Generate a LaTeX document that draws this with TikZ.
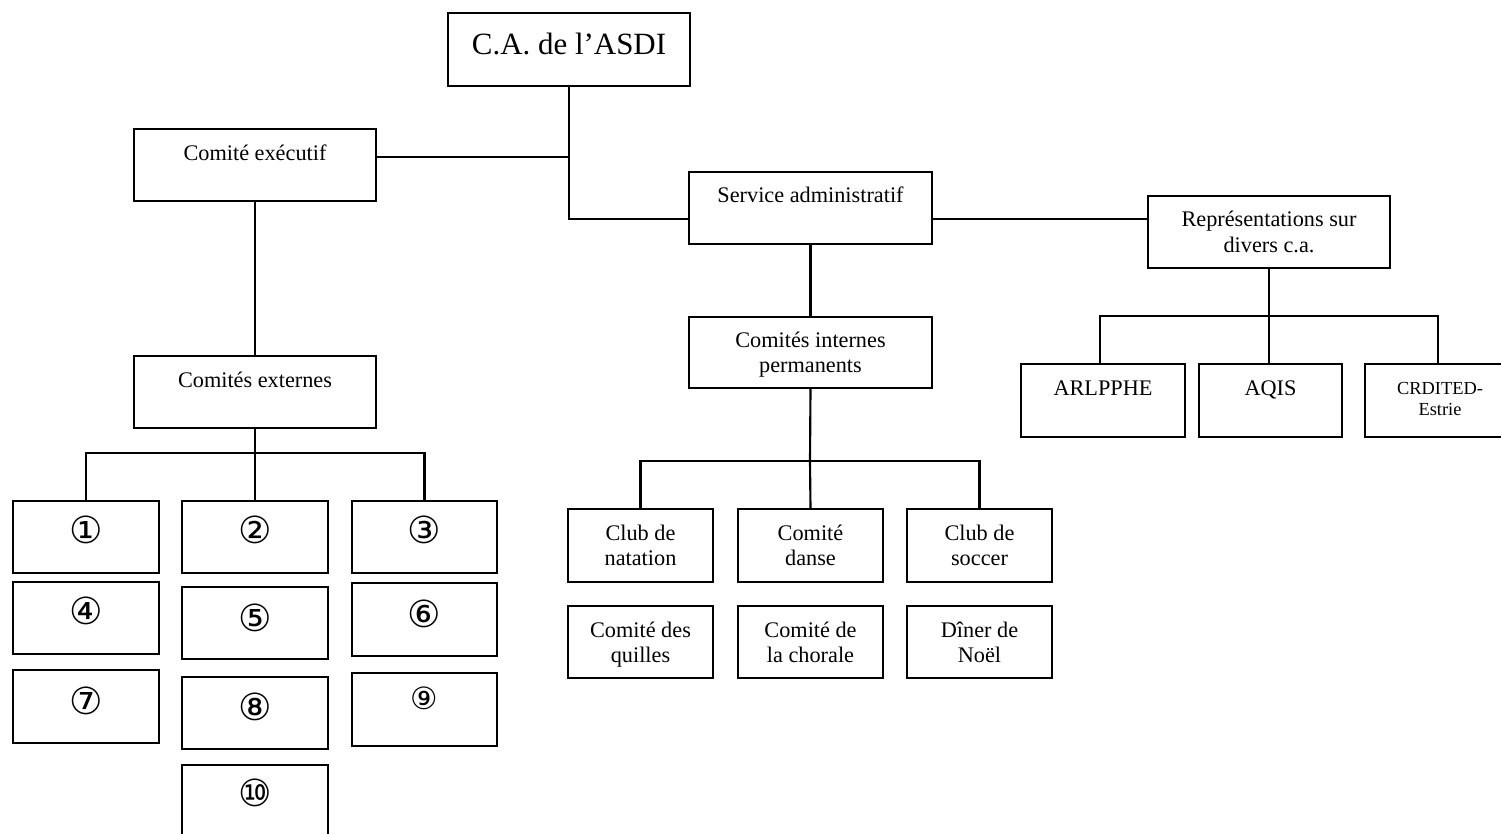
\documentclass[tikz,border=0pt]{standalone}
\usepackage{fontspec}
\setmainfont{Liberation Serif}
\newfontfamily\circfont{DejaVu Sans}
\usetikzlibrary{calc}
\begin{document}
\begin{tikzpicture}[x=0.75pt,y=-0.75pt,line width=1.6pt,
  bx/.style 2 args={draw,line width=1.6pt,minimum width=#1*0.75pt,minimum height=#2*0.75pt,inner sep=0pt,outer sep=0pt,anchor=north west},
  txt/.style={anchor=base,inner sep=0pt,font=\fontsize{16.7}{19.3}\selectfont},
  num/.style={anchor=center,inner sep=0pt,font=\circfont\fontsize{28}{32}\selectfont}]
\useasboundingbox (0,0) rectangle (1501,834);
% boxes
\node[bx={242}{73}] (ca) at (448,13) {};
\node[bx={242}{72}] (ce) at (134,129) {};
\node[bx={242}{72}] (cx) at (134,356) {};
\node[bx={243}{72}] (sa) at (689,172) {};
\node[bx={243}{71}] (ci) at (689,317) {};
\node[bx={242}{72}] (rep) at (1148,196) {};
\node[bx={164}{73}] (arl) at (1021,364) {};
\node[bx={143}{73}] (aqis) at (1199,364) {};
\node[bx={150}{73}] (crd) at (1365,364) {};
\node[bx={145}{73}] (nat) at (568,509) {};
\node[bx={145}{73}] (dan) at (738,509) {};
\node[bx={145}{73}] (soc) at (907,509) {};
\node[bx={145}{72}] (qui) at (568,606) {};
\node[bx={145}{72}] (cho) at (738,606) {};
\node[bx={145}{72}] (noe) at (907,606) {};
\node[bx={146}{72}] (n1) at (13,501) {};
\node[bx={146}{72}] (n4) at (13,582) {};
\node[bx={146}{73}] (n7) at (13,670) {};
\node[bx={146}{72}] (n2) at (182,501) {};
\node[bx={146}{72}] (n5) at (182,587) {};
\node[bx={146}{72}] (n8) at (182,677) {};
\node[bx={146}{70}] (n10) at (182,765) {};
\node[bx={145}{72}] (n3) at (352,501) {};
\node[bx={145}{73}] (n6) at (352,583) {};
\node[bx={145}{73}] (n9) at (352,673) {};
% texts
\node[txt,font=\fontsize{23.2}{28}\selectfont] (ca-t) at ($(ca.north)+(0,42)$) {C.A. de l’ASDI};
\node[txt] (ce-t) at ($(ce.north)+(0,32)$) {Comité exécutif};
\node[txt] (cx-t) at ($(cx.north)+(0,31)$) {Comités externes};
\node[txt] (sa-t) at ($(sa.north)+(0,31)$) {Service administratif};
\node[txt] (ci-t) at ($(ci.north)+(0,30)$) {\begin{tabular}[t]{@{}c@{}}Comités internes\\permanents\end{tabular}};
\node[txt] (rep-t) at ($(rep.north)+(0,31)$) {\begin{tabular}[t]{@{}c@{}}Représentations sur\\divers c.a.\end{tabular}};
\node[txt] (arl-t) at ($(arl.north)+(0,31)$) {ARLPPHE};
\node[txt] (aqis-t) at ($(aqis.north)+(0,31)$) {AQIS};
\node[txt,font=\fontsize{13.8}{15.8}\selectfont] (crd-t) at (1440,394) {\begin{tabular}[t]{@{}c@{}}CRDITED-\\Estrie\end{tabular}};
\node[txt] (nat-t) at ($(nat.north)+(0,31)$) {\begin{tabular}[t]{@{}c@{}}Club de\\natation\end{tabular}};
\node[txt] (dan-t) at ($(dan.north)+(0,31)$) {\begin{tabular}[t]{@{}c@{}}Comité\\danse\end{tabular}};
\node[txt] (soc-t) at ($(soc.north)+(0,31)$) {\begin{tabular}[t]{@{}c@{}}Club de\\soccer\end{tabular}};
\node[txt] (qui-t) at ($(qui.north)+(0,31)$) {\begin{tabular}[t]{@{}c@{}}Comité des\\quilles\end{tabular}};
\node[txt] (cho-t) at ($(cho.north)+(0,31)$) {\begin{tabular}[t]{@{}c@{}}Comité de\\la chorale\end{tabular}};
\node[txt] (noe-t) at ($(noe.north)+(0,31)$) {\begin{tabular}[t]{@{}c@{}}Dîner de\\Noël\end{tabular}};
\node[num] (n1-t) at ($(n1.north)+(0,29)$) {①};
\node[num] (n2-t) at ($(n2.north)+(0,29)$) {②};
\node[num] (n3-t) at ($(n3.north)+(0,29)$) {③};
\node[num] (n4-t) at ($(n4.north)+(0,29)$) {④};
\node[num] (n5-t) at ($(n5.north)+(0,31)$) {⑤};
\node[num] (n6-t) at ($(n6.north)+(0,31)$) {⑥};
\node[num] (n7-t) at ($(n7.north)+(0,31)$) {⑦};
\node[num] (n8-t) at ($(n8.north)+(0,30)$) {⑧};
\node[num,font=\circfont\fontsize{23}{26}\selectfont] (n9-t) at ($(n9.north)+(0,25)$) {⑨};
\node[num] (n10-t) at ($(n10.north)+(0,28)$) {⑩};
% connectors
\coordinate (j1) at (569,157);
\coordinate (j2) at (569,219);
\draw (ca.south) -- (j2) -- (j2 -| sa.west);
\draw (j1 -| ce.east) -- (j1);
\draw (j2 -| sa.east) -- (j2 -| rep.west);
\draw (ce.south) -- (cx.north);
\coordinate (b1) at (255,453);
\draw (cx.south) -- (b1) -- (n2.north);
\draw (n1.north) |- (n3.north |- b1) -- (n3.north);
\draw (sa.south) -- (ci.north);
\coordinate (b2) at (810,461);
\draw (ci.south) -- (b2) -- (dan.north);
\draw (nat.north) |- (soc.north |- b2) -- (soc.north);
\coordinate (b3) at (1269,316);
\coordinate (r1) at (1100,316);
\coordinate (r3) at (1438,316);
\draw (rep.south) -- (b3) -- (b3 |- aqis.north);
\draw (r1 |- arl.north) -- (r1) -- (r3) -- (r3 |- crd.north);
\end{tikzpicture}
\end{document}
